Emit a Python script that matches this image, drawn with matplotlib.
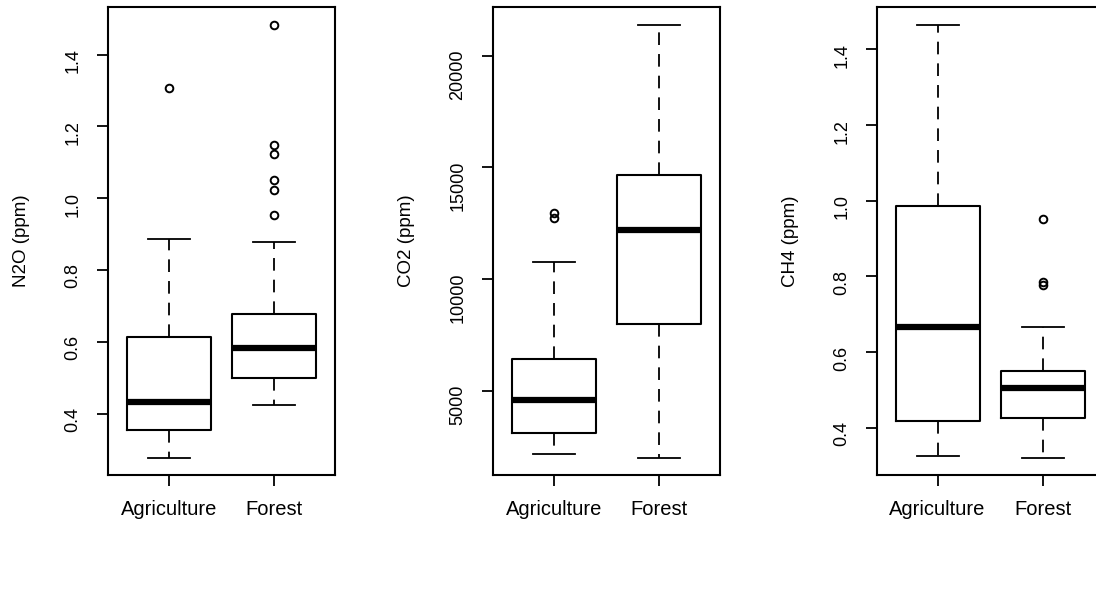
"""
Three side-by-side R-style boxplots: N2O, CO2, CH4 by land use.
"""
import matplotlib
matplotlib.use("Agg")
import matplotlib.pyplot as plt

plt.rcParams["font.family"] = ["Liberation Sans", "DejaVu Sans"]

GROUPS = ["Agriculture", "Forest"]

# summary values: whisker low, Q1, median, Q3, whisker high, outliers
N2O_AGR = dict(whislo=0.277, q1=0.353, med=0.433, q3=0.614, whishi=0.885, fliers=[1.308])
N2O_FOR = dict(whislo=0.425, q1=0.500, med=0.584, q3=0.676, whishi=0.877,
               fliers=[0.952, 1.024, 1.052, 1.124, 1.149, 1.484])

CO2_AGR = dict(whislo=2150, q1=3120, med=4580, q3=6420, whishi=10760, fliers=[12710, 12970])
CO2_FOR = dict(whislo=2000, q1=7980, med=12210, q3=14670, whishi=21390, fliers=[])

CH4_AGR = dict(whislo=0.326, q1=0.417, med=0.666, q3=0.986, whishi=1.466, fliers=[])
CH4_FOR = dict(whislo=0.321, q1=0.426, med=0.505, q3=0.551, whishi=0.667,
               fliers=[0.778, 0.786, 0.953])

N2O_TICKS = [0.4, 0.6, 0.8, 1.0, 1.2, 1.4]
CO2_TICKS = [5000, 10000, 15000, 20000]
CH4_TICKS = [0.4, 0.6, 0.8, 1.0, 1.2, 1.4]

PANELS = [
    ("N2O (ppm)", [N2O_AGR, N2O_FOR], N2O_TICKS, "{:.1f}"),
    ("CO2 (ppm)", [CO2_AGR, CO2_FOR], CO2_TICKS, "{:.0f}"),
    ("CH4 (ppm)", [CH4_AGR, CH4_FOR], CH4_TICKS, "{:.1f}"),
]

# axes rectangles in figure fractions (left, bottom, width, height)
LEFTS = [0.0985, 0.4498, 0.7999]
BOTTOM, WIDTH, HEIGHT = 0.207, 0.207, 0.781


def main():
    fig = plt.figure(figsize=(10.96, 5.99), dpi=100)
    for left, (label, stats, ticks, fmt) in zip(LEFTS, PANELS):
        ax = fig.add_axes([left, BOTTOM, WIDTH, HEIGHT])
        ax.bxp(
            stats, positions=[1, 2], widths=0.8, capwidths=0.4,
            boxprops=dict(color="black", linewidth=1.5),
            medianprops=dict(color="black", linewidth=4.5, solid_capstyle="butt"),
            whiskerprops=dict(color="black", linewidth=1.3, linestyle=(0, (7, 5))),
            capprops=dict(color="black", linewidth=1.3),
            flierprops=dict(marker="o", markerfacecolor="none", markeredgecolor="black",
                            markersize=5.5, markeredgewidth=1.4),
        )
        vals = []
        for s in stats:
            vals += [s["whislo"], s["whishi"], *s["fliers"]]
        lo, hi = min(vals), max(vals)
        pad = 0.04 * (hi - lo)
        ax.set_ylim(lo - pad, hi + pad)
        ax.set_xlim(0.42, 2.58)

        ax.set_xticks([1, 2], GROUPS, fontsize=14.5)
        ax.set_yticks(ticks, [fmt.format(t) for t in ticks], fontsize=13)
        ax.tick_params(axis="y", labelrotation=90)
        ax.tick_params(direction="out", length=8, width=1.3, pad=10)
        ax.tick_params(axis="y", pad=11)
        for sp in ax.spines.values():
            sp.set_linewidth(1.5)
        ax.set_ylabel(label, fontsize=13.5, labelpad=25)

    fig.savefig("out.png", dpi=100)


if __name__ == "__main__":
    main()
